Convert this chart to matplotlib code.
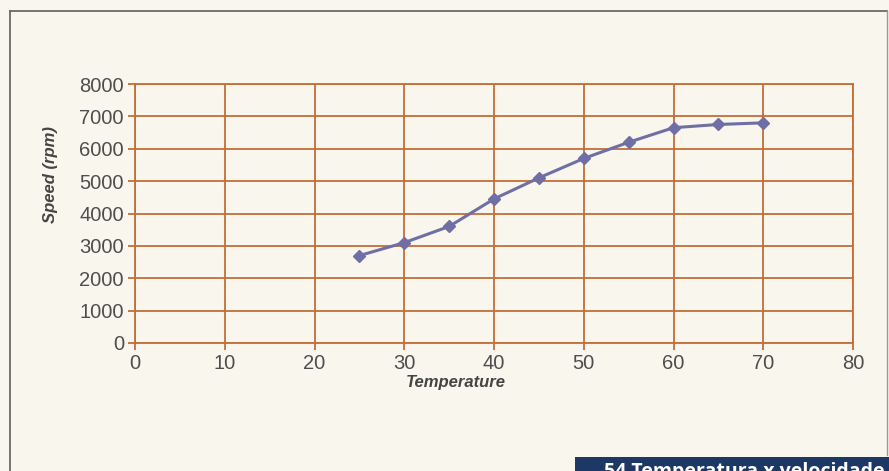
import matplotlib
matplotlib.use("Agg")
import matplotlib.pyplot as plt
from matplotlib.patches import Rectangle
from matplotlib.lines import Line2D

# Fan speed measured against temperature
temperature = [25, 30, 35, 40, 45, 50, 55, 60, 65, 70]
speed_rpm = [2700, 3100, 3600, 4450, 5100, 5700, 6200, 6650, 6750, 6800]

x_ticks = [0, 10, 20, 30, 40, 50, 60, 70, 80]
y_ticks = [0, 1000, 2000, 3000, 4000, 5000, 6000, 7000, 8000]

W, H = 889, 471
bg = "#f8f6ed"
grid_c = "#c46d38"
line_c = "#6f6fa6"
text_c = "#4e4e4e"

fig = plt.figure(figsize=(W / 100, H / 100), dpi=100)
fig.patch.set_facecolor(bg)

# panel frame
frame_c = "#6a6a6a"
fig.add_artist(Line2D([10 / W, 887 / W], [1 - 11 / H, 1 - 11 / H], color=frame_c, lw=1.3))
fig.add_artist(Line2D([10 / W, 10 / W], [0, 1 - 11 / H], color=frame_c, lw=1.3))
fig.add_artist(Line2D([887 / W, 887 / W], [1 - 455 / H, 1 - 11 / H], color="#9a9a9a", lw=1.0))

ax = fig.add_axes([135 / W, 1 - 343 / H, (853 - 135) / W, (343 - 84) / H])
ax.set_facecolor(bg)
ax.plot(temperature, speed_rpm, color=line_c, lw=2.2, marker="D", ms=6.5,
        mfc=line_c, mec=line_c, zorder=3)

ax.set_xlim(0, 80)
ax.set_ylim(0, 8000)
ax.set_xticks(x_ticks)
ax.set_yticks(y_ticks)
ax.set_xticklabels([str(v) for v in x_ticks])
ax.set_yticklabels([str(v) for v in y_ticks])
ax.grid(True, color=grid_c, lw=1.3)
ax.set_axisbelow(True)
for s in ax.spines.values():
    s.set_color(grid_c)
    s.set_linewidth(1.3)
ax.tick_params(axis="both", direction="out", length=5, width=1.3, color=grid_c,
               labelcolor=text_c, labelsize=14.5, pad=3)
for lab in ax.get_xticklabels() + ax.get_yticklabels():
    lab.set_fontfamily("Liberation Sans")

fig.text(456 / W, 1 - 383 / H, "Temperature", ha="center", va="center",
         fontsize=12, fontweight="bold", fontstyle="italic", color="#444444",
         family="Liberation Sans")
fig.text(50 / W, 1 - 175 / H, "Speed (rpm)", ha="center", va="center", rotation=90,
         fontsize=12, fontweight="bold", fontstyle="italic", color="#444444",
         family="Liberation Sans")

# caption strip
fig.add_artist(Rectangle((575 / W, 0), (W - 575) / W, (H - 457) / H,
                         transform=fig.transFigure, facecolor="#1e3866",
                         edgecolor="none"))
fig.text(604 / W, 1 - 462 / H, "54 Temperatura x velocidade", ha="left", va="top",
         fontsize=14, fontweight="bold", color="white", family="Open Sans")

fig.savefig("out.png", dpi=100, facecolor=bg)
